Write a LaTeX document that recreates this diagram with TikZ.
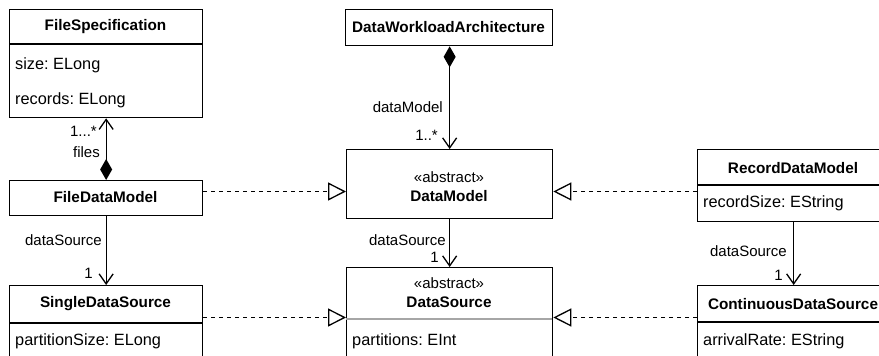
\documentclass[tikz,border=0pt]{standalone}
\usepackage{fontspec}
\setmainfont{Liberation Sans}
\usetikzlibrary{arrows.meta}
\frenchspacing
\begin{document}
\begin{tikzpicture}[x=1pt,y=-1pt,
  box/.style={draw, line width=1.3pt, rectangle, inner sep=0pt, anchor=north west},
  ttl/.style={font=\fontsize{15.3}{18}\selectfont\bfseries, inner sep=0pt},
  stereo/.style={font=\fontsize{15}{18}\selectfont, inner sep=0pt},
  attr/.style={font=\fontsize{16.3}{18}\selectfont, anchor=west, inner sep=0pt},
  lbl/.style={font=\fontsize{15}{18}\selectfont, anchor=east, inner sep=0pt},
  divider/.style={line width=1.3pt},
  assoc/.style={line width=1.3pt, -{Straight Barb[length=10pt,width=14pt,line width=1.3pt]}},
  compo/.style={line width=1.3pt, {Diamond[length=21pt,width=12pt]}-{Straight Barb[length=10pt,width=14pt,line width=1.3pt]}},
  gener/.style={line width=1.3pt, dash pattern=on 4pt off 4pt, -{Triangle[open,length=18pt,width=18pt,fill=white,line width=1.3pt]}}
]
\useasboundingbox (0,0) rectangle (879,356);
\clip (0,0) rectangle (879,356);

% boxes
\node[box, minimum width=193pt, minimum height=108pt] (fs) at (9,9) {};
\node[box, minimum width=193pt, minimum height=35pt] (fdm) at (9,180) {};
\node[box, minimum width=193pt, minimum height=85pt] (sds) at (9,285) {};
\node[box, minimum width=207pt, minimum height=36pt] (dwa) at (345,9) {};
\node[box, minimum width=206pt, minimum height=69pt] (dm) at (346,149) {};
\node[box, minimum width=206pt, minimum height=98pt] (ds) at (346,267) {};
\node[box, minimum width=192pt, minimum height=72pt] (rdm) at (697,149) {};
\node[box, minimum width=192pt, minimum height=80pt] (cds) at (697,285) {};

% dividers
\draw[divider] (9,44) -- (202,44);
\draw[divider] (9,323) -- (202,323);
\draw[divider, gray!70] (346,319) -- (552,319);
\draw[divider] (697,185) -- (889,185);
\draw[divider] (697,322) -- (889,322);

% texts
\node[ttl] (fst) at (105.5,27) {FileSpecification};
\node[attr] (fsa1) at (15,65) {size: ELong};
\node[attr] (fsa2) at (15,100) {records: ELong};
\node[ttl] (fdmt) at (105.5,197.5) {FileDataModel};
\node[ttl] (sdst) at (105.5,304) {SingleDataSource};
\node[attr] (sdsa) at (15,341) {partitionSize: ELong};
\node[ttl] (dwat) at (448.5,27) {DataWorkloadArchitecture};
\node[stereo] (dms) at (449,177) {«abstract»};
\node[ttl] (dmt) at (449,196) {DataModel};
\node[stereo] (dss) at (449,283) {«abstract»};
\node[ttl] (dst) at (449,302) {DataSource};
\node[attr] (dsa) at (352,341) {partitions: EInt};
\node[ttl] (rdmt) at (793,168) {RecordDataModel};
\node[attr] (rdma) at (703,203) {recordSize: EString};
\node[ttl] (cdst) at (793,304) {ContinuousDataSource};
\node[attr] (cdsa) at (703,341) {arrivalRate: EString};

% associations
\draw[compo] (fdm.north) -- (fs.south);
\node[lbl] (l1) at (97,131) {1...*};
\node[lbl] (l2) at (100,152) {files};
\draw[assoc] (fdm.south) -- (sds.north);
\node[lbl] (l3) at (102,240) {dataSource};
\node[lbl] (l4) at (93,273) {1};
\draw[compo] (dwa.south -| dm.north) -- (dm.north);
\node[lbl] (l5) at (443,107) {dataModel};
\node[lbl] (l6) at (438,135) {1..*};
\draw[assoc] (dm.south) -- (ds.north);
\node[lbl] (l7) at (446,240) {dataSource};
\node[lbl] (l8) at (439,257) {1};
\draw[assoc] (rdm.south) -- (cds.north);
\node[lbl] (l9) at (787,251) {dataSource};
\node[lbl] (l10) at (783,275) {1};

% generalizations
\coordinate (ya) at (0,191.5);
\coordinate (yb) at (0,317.5);
\draw[gener] (fdm.east |- ya) -- (dm.west |- ya);
\draw[gener] (rdm.west |- ya) -- (dm.east |- ya);
\draw[gener] (sds.east |- yb) -- (ds.west |- yb);
\draw[gener] (cds.west |- yb) -- (ds.east |- yb);
\end{tikzpicture}
\end{document}
